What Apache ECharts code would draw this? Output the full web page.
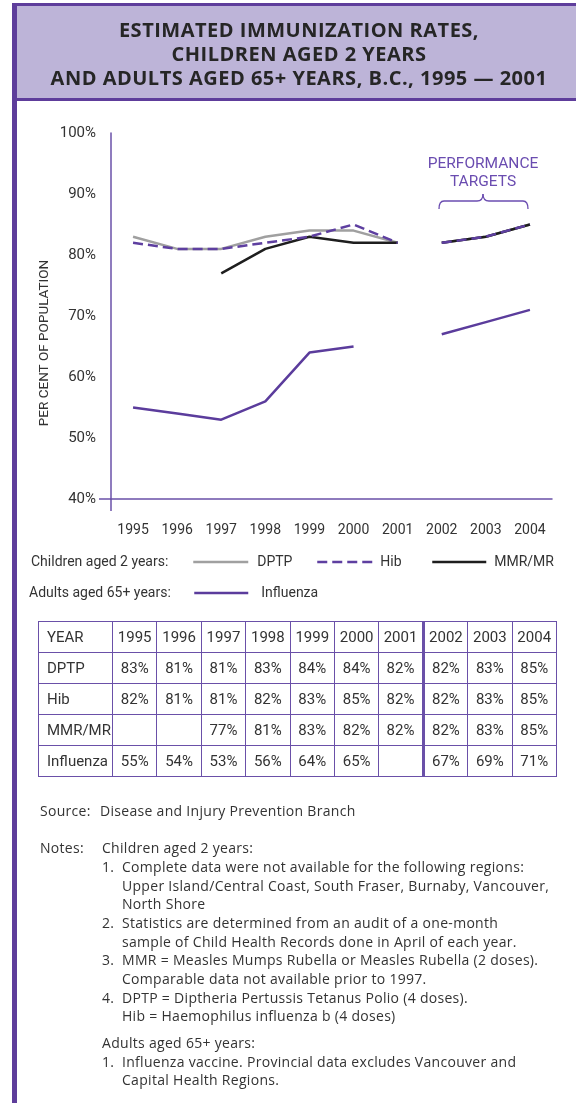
<!DOCTYPE html>
<html><head><meta charset="utf-8">
<script src="https://cdn.jsdelivr.net/npm/echarts@6/dist/echarts.min.js"></script>
<style>
html,body{margin:0;padding:0;background:#fff;}
#wrap{position:relative;width:576px;height:1103px;overflow:hidden;background:#fff;}
#chart{position:absolute;left:0;top:0;width:576px;height:1103px;}
#titlebox{position:absolute;left:12px;top:3px;width:600px;height:98px;background:#BDB4D8;border-top:3px solid #5E3D9B;border-bottom:3px solid #5E3D9B;box-sizing:border-box;}
#leftbar{position:absolute;left:12px;top:3px;width:5px;height:1100px;background:#5E3D9B;}
.tl{position:absolute;left:0;width:598px;text-align:center;font-family:'Open Sans','Noto Sans',sans-serif;font-weight:700;font-size:20px;letter-spacing:0.5px;color:#262626;white-space:nowrap;line-height:24px;height:24px;}
#tbl{position:absolute;left:38px;top:621px;border-collapse:collapse;table-layout:fixed;width:518px;font-family:Roboto,sans-serif;font-size:15px;color:#333;}
#tbl td{border:1.5px solid #6A50A8;height:30px;padding:0;text-align:center;vertical-align:middle;}
#tbl td:first-child{text-align:left;padding-left:8px;}
#tbl td:nth-child(8){border-right:3px solid #6A50A8;}
.nt{position:absolute;font-family:'Open Sans','Noto Sans',sans-serif;font-size:14px;letter-spacing:0.3px;color:#333;white-space:nowrap;line-height:18px;height:18px;}
</style></head>
<body><div id="wrap">
<div id="chart"></div>
<div id="titlebox"></div>
<div id="leftbar"></div>
<div class="tl" style="top:18px">ESTIMATED IMMUNIZATION RATES,</div>
<div class="tl" style="top:42px">CHILDREN AGED 2 YEARS</div>
<div class="tl" style="top:66px">AND ADULTS AGED 65+ YEARS, B.C., 1995 — 2001</div>
<table id="tbl"></table>
<div id="notes"></div>
</div>
<script>
// ---- data ----
const years = ['1995','1996','1997','1998','1999','2000','2001','2002','2003','2004'];
const yTickValues = [40, 50, 60, 70, 80, 90, 100];
const dptp = [83, 81, 81, 83, 84, 84, 82];
const hib = [82, 81, 81, 82, 83, 85, 82];
const mmr = [null, null, 77, 81, 83, 82, 82];
const influenza = [55, 54, 53, 56, 64, 65, null];
const dptpTarget = [82, 83, 85];
const hibTarget = [82, 83, 85];
const mmrTarget = [82, 83, 85];
const influenzaTarget = [67, 69, 71];

const FONT = "Roboto, sans-serif";
const AXIS = '#6A50A8';
const TXT = '#333333';
const BRACE = '#6A4CB0';

const pad = n => new Array(n).fill(null);
const actual = arr => arr.concat(pad(years.length - arr.length));
const target = arr => pad(years.length - arr.length).concat(arr);

function lineSeries(name, data, color, type, z) {
  return {
    type: 'line', name: name, data: data, symbol: 'none', connectNulls: false,
    z: z, silent: true,
    lineStyle: {color: color, width: 2.5, type: type},
    itemStyle: {color: color}
  };
}
const braceStyle = {stroke: BRACE, lineWidth: 1.3, fill: null};
function legendFor(name, left, top, w, gap) {
  return {data: [name], left: left, top: top, itemWidth: w, itemHeight: 14, padding: 0, selectedMode: false,
    itemStyle: {opacity: 0, borderWidth: 0},
    lineStyle: {width: 2.5},
    textStyle: {color: TXT, fontFamily: FONT, fontSize: 14, padding: [0, 0, 0, gap]}};
}

const chart = echarts.init(document.getElementById('chart'), null, {renderer: 'canvas'});
chart.setOption({
  animation: false,
  backgroundColor: 'transparent',
  grid: {left: 111, top: 133, width: 441, height: 366, outerBoundsMode: 'none'},
  xAxis: {
    type: 'category', data: years, boundaryGap: true,
    axisLine: {lineStyle: {color: AXIS, width: 1.5}},
    axisTick: {show: false},
    axisLabel: {color: TXT, fontFamily: FONT, fontSize: 14, margin: 24, interval: 0}
  },
  yAxis: {
    type: 'value', min: yTickValues[0], max: yTickValues[yTickValues.length - 1], interval: 10,
    axisLine: {show: true, lineStyle: {color: AXIS, width: 1.5}},
    axisTick: {show: false},
    splitLine: {show: false},
    axisLabel: {color: TXT, fontFamily: FONT, fontSize: 15, margin: 15, formatter: '{value}%'}
  },
  legend: [
    legendFor('DPTP', 192, 555, 55, 4),
    legendFor('Hib', 316, 555, 55, 3),
    legendFor('MMR/MR', 431, 555, 54, 3),
    legendFor('Influenza', 193, 586, 54, 8)
  ],
  graphic: [
    {type: 'line', shape: {x1: 99, y1: 499, x2: 111, y2: 499}, style: {stroke: AXIS, lineWidth: 1.5}},
    {type: 'line', shape: {x1: 111, y1: 499, x2: 111, y2: 511}, style: {stroke: AXIS, lineWidth: 1.5}},
    {type: 'text', x: 45, y: 343, rotation: Math.PI / 2,
     style: {text: 'PER CENT OF POPULATION', fill: TXT, font: "13.5px Roboto, sans-serif", align: 'center', verticalAlign: 'middle'}},
    {type: 'text', x: 483, y: 164,
     style: {text: 'PERFORMANCE', fill: BRACE, font: "15.5px Roboto, sans-serif", align: 'center', verticalAlign: 'middle'}},
    {type: 'text', x: 483, y: 182,
     style: {text: 'TARGETS', fill: BRACE, font: "15.5px Roboto, sans-serif", align: 'center', verticalAlign: 'middle'}},
    {type: 'bezierCurve', shape: {x1: 439, y1: 209, cpx1: 439, cpy1: 201, x2: 444, y2: 201}, style: braceStyle},
    {type: 'line', shape: {x1: 444, y1: 201, x2: 477, y2: 201}, style: braceStyle},
    {type: 'bezierCurve', shape: {x1: 477, y1: 201, cpx1: 483, cpy1: 201, x2: 483, y2: 194}, style: braceStyle},
    {type: 'bezierCurve', shape: {x1: 483, y1: 194, cpx1: 483, cpy1: 201, x2: 489, y2: 201}, style: braceStyle},
    {type: 'line', shape: {x1: 489, y1: 201, x2: 523, y2: 201}, style: braceStyle},
    {type: 'bezierCurve', shape: {x1: 523, y1: 201, cpx1: 528, cpy1: 201, x2: 528, y2: 209}, style: braceStyle},
    {type: 'text', x: 31, y: 562,
     style: {text: 'Children aged 2 years:', fill: TXT, font: "14px Roboto, sans-serif", align: 'left', verticalAlign: 'middle'}},
    {type: 'text', x: 29, y: 593,
     style: {text: 'Adults aged 65+ years:', fill: TXT, font: "14px Roboto, sans-serif", align: 'left', verticalAlign: 'middle'}}
  ],
  series: [
    lineSeries('DPTP', actual(dptp), '#A0A0A0', 'solid', 2),
    lineSeries('DPTP', target(dptpTarget), '#A0A0A0', 'solid', 2),
    lineSeries('MMR/MR', actual(mmr), '#1E1E1E', 'solid', 3),
    lineSeries('MMR/MR', target(mmrTarget), '#1E1E1E', 'solid', 3),
    lineSeries('Hib', actual(hib), '#5E3FA0', [10, 5], 4),
    lineSeries('Hib', target(hibTarget), '#5E3FA0', [10, 5], 4),
    lineSeries('Influenza', actual(influenza), '#5B3C9C', 'solid', 5),
    lineSeries('Influenza', target(influenzaTarget), '#5B3C9C', 'solid', 5)
  ]
});

// ---- table ----
const tableRows = [
  ['YEAR', years],
  ['DPTP', dptp.concat(dptpTarget)],
  ['Hib', hib.concat(hibTarget)],
  ['MMR/MR', mmr.concat(mmrTarget)],
  ['Influenza', influenza.concat(influenzaTarget)]
];
const tbl = document.getElementById('tbl');
let html = '<colgroup><col style="width:74px">' + years.map(() => '<col style="width:44.4px">').join('') + '</colgroup>';
tableRows.forEach((r, i) => {
  html += '<tr><td>' + r[0] + '</td>' + r[1].map(v => '<td>' + (v == null ? '' : (i === 0 ? v : v + '%')) + '</td>').join('') + '</tr>';
});
tbl.innerHTML = html;

// ---- notes ----
const noteLines = [
  [40, 811, 'Source:'], [100, 811, 'Disease and Injury Prevention Branch'],
  [40, 848, 'Notes:'], [102, 848, 'Children aged 2 years:'],
  [102, 867, '1.'], [122, 867, 'Complete data were not available for the following regions:'],
  [122, 886, 'Upper Island/Central Coast, South Fraser, Burnaby, Vancouver,'],
  [122, 904, 'North Shore'],
  [102, 923, '2.'], [122, 923, 'Statistics are determined from an audit of a one-month'],
  [122, 942, 'sample of Child Health Records done in April of each year.'],
  [102, 960, '3.'], [122, 960, 'MMR = Measles Mumps Rubella or Measles Rubella (2 doses).'],
  [122, 979, 'Comparable data not available prior to 1997.'],
  [102, 998, '4.'], [122, 998, 'DPTP = Diptheria Pertussis Tetanus Polio (4 doses).'],
  [122, 1016, 'Hib = Haemophilus influenza b (4 doses)'],
  [102, 1043, 'Adults aged 65+ years:'],
  [102, 1062, '1.'], [122, 1062, 'Influenza vaccine. Provincial data excludes Vancouver and'],
  [122, 1080, 'Capital Health Regions.']
];
const notes = document.getElementById('notes');
notes.innerHTML = noteLines.map(n => '<div class="nt" style="left:' + n[0] + 'px;top:' + (n[1] - 9) + 'px">' + n[2] + '</div>').join('');
</script>
</body></html>
